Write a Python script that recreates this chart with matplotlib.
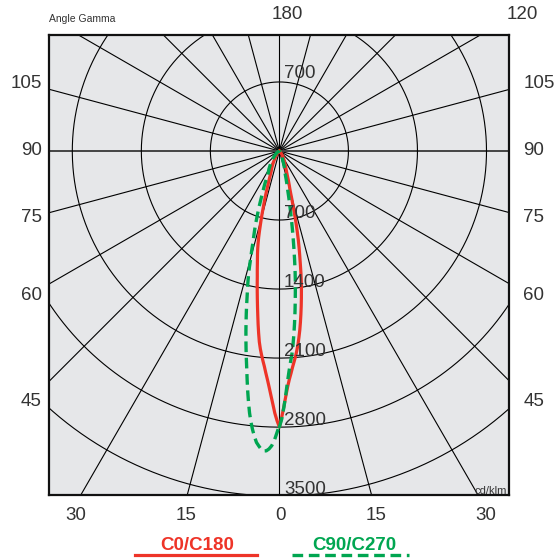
import numpy as np
import matplotlib.pyplot as plt
from matplotlib.lines import Line2D

plt.rcParams['font.family'] = ['Liberation Sans', 'DejaVu Sans']

# gamma angles (deg) where the curves were read
gamma = [0, 0.5, 1, 1.5, 2, 2.5, 3, 3.5, 4, 4.5, 5, 5.5, 6, 6.5, 7, 7.5, 8,
         8.5, 9, 9.5, 10, 10.5, 11, 11.5, 12, 12.5, 13, 13.5, 14, 14.5, 15,
         15.5, 16, 17, 18, 20, 22, 24, 27, 30, 35, 40, 50, 60, 75, 90]

# luminous intensity in cd/klm per C-plane
c0 = [2799, 2700, 2593, 2486, 2392, 2317, 2256, 2194, 2141, 2088, 2030, 1969,
      1898, 1827, 1749, 1669, 1589, 1508, 1427, 1346, 1258, 1164, 1081, 1002,
      923, 836, 749, 658, 572, 504, 437, 394, 366, 312, 257, 200, 165, 135,
      102, 75, 42, 22, 5, 0, 0, 0]
c180 = [2799, 2735, 2659, 2564, 2477, 2395, 2321, 2255, 2189, 2133, 2076, 2016,
        1947, 1860, 1771, 1680, 1595, 1514, 1437, 1362, 1291, 1231, 1171, 1117,
        1068, 1017, 961, 901, 834, 767, 708, 649, 591, 503, 416, 294, 222, 191,
        144, 100, 60, 32, 10, 0, 0, 0]
c90 = [2799, 2717, 2600, 2471, 2343, 2236, 2146, 2068, 1974, 1867, 1758, 1647,
       1536, 1428, 1327, 1216, 1102, 992, 890, 793, 701, 613, 538, 471,
       404, 366, 328, 290, 252, 225, 214, 202, 191, 168, 145, 99, 80, 66,
       52, 40, 25, 14, 5, 0, 0, 0]
c270 = [2780, 2857, 2935, 2990, 3023, 3043, 3046, 3030, 2998, 2964, 2906, 2839,
        2762, 2674, 2569, 2460, 2349, 2239, 2141, 2047, 1954, 1863, 1773, 1685,
        1599, 1513, 1439, 1368, 1294, 1213, 1120, 1055, 985, 877, 787, 604, 458,
        363, 248, 213, 155, 108, 50, 20, 5, 0]

circle_values = [700, 1400, 2100, 2800, 3500]
side_angles = [105, 90, 75, 60, 45]
bottom_angles = [-30, -15, 0, 15, 30]
top_angles = [180, 120]

RED = '#ee3428'
GREEN = '#00a651'
TXT = '#333333'

W, H = 560, 559
CX, CY = 279.4, 151.0      # pole position in pixels
SCALE = 10.14              # cd/klm per pixel


def fxy(px, py):
    return px / W, 1 - py / H


def curve(left, right):
    g = np.radians(gamma)
    xl = -np.array(left) * np.sin(g)
    yl = -np.array(left) * np.cos(g)
    xr = np.array(right) * np.sin(g)
    yr = -np.array(right) * np.cos(g)
    return np.r_[xl[::-1], xr], np.r_[yl[::-1], yr]


fig = plt.figure(figsize=(5.6, 5.59), dpi=100)
left, right, top, bottom = 49.3, 509.3, 35.0, 495.3
ax = fig.add_axes([left / W, 1 - bottom / H, (right - left) / W, (bottom - top) / H])
ax.set_xlim((left - CX) * SCALE, (right - CX) * SCALE)
ax.set_ylim((CY - bottom) * SCALE, (CY - top) * SCALE)
ax.set_facecolor('#e6e7e9')
ax.set_xticks([])
ax.set_yticks([])
for sp in ax.spines.values():
    sp.set_linewidth(1.6)
    sp.set_color('#111111')

# grid: radial lines every 15 deg and intensity circles
for a in range(0, 360, 15):
    if a % 180 == 90:
        continue
    t = np.radians(a)
    ax.plot([0, 9000 * np.sin(t)], [0, -9000 * np.cos(t)], color='black', lw=0.8)
ax.plot([-9000, 9000], [0, 0], color='#444444', lw=1.4)

th = np.linspace(0, 2 * np.pi, 721)
for r in circle_values:
    ax.plot(r * np.cos(th), r * np.sin(th), color='black', lw=0.8)

# intensity labels along the vertical axis
ax.text(4.6 * SCALE, circle_values[0] + 4 * SCALE, str(circle_values[0]),
        ha='left', va='baseline', fontsize=13.5, color=TXT)
for r in circle_values:
    ax.text(4.6 * SCALE, -r + 2 * SCALE, str(r), ha='left', va='baseline',
            fontsize=13.5, color=TXT)

# curves
x, y = curve(c180, c0)
ax.plot(x, y, color=RED, lw=2.3, solid_joinstyle='round')
x, y = curve(c270, c90)
ax.plot(x, y, color=GREEN, lw=2.4, dashes=(3.2, 1.7))

# angle labels
for a in side_angles:
    py = CY - 2.5 + 251 / np.tan(np.radians(a)) + 6.5
    fig.text(*fxy(41.5, py), str(a), ha='right', va='baseline', fontsize=13.5, color=TXT)
    fig.text(*fxy(523.5, py), str(a), ha='left', va='baseline', fontsize=13.5, color=TXT)
for a in bottom_angles:
    px = CX + 1.5 + 355 * np.tan(np.radians(a))
    fig.text(*fxy(px, 519.5), str(abs(a)), ha='center', va='baseline',
             fontsize=13.5, color=TXT)
for a, px in zip(top_angles, [287.5, 522]):
    fig.text(*fxy(px, 19), str(a), ha='center', va='baseline', fontsize=13.5, color=TXT)

fig.text(*fxy(49, 21.5), 'Angle Gamma', ha='left', va='baseline', fontsize=7.5, color=TXT)
fig.text(*fxy(507, 493.5), 'cd/klm', ha='right', va='baseline', fontsize=8, color=TXT)

# legend
fig.text(*fxy(197.5, 550), 'C0/C180', ha='center', va='baseline', fontsize=13.5,
         fontweight='bold', color=RED)
fig.text(*fxy(354, 550), 'C90/C270', ha='center', va='baseline', fontsize=13.5,
         fontweight='bold', color=GREEN)
fig.add_artist(Line2D([135 / W, 257 / W], [1 - 555 / H] * 2, color=RED, lw=2.3))
fig.add_artist(Line2D([292 / W, 409 / W], [1 - 555 / H] * 2, color=GREEN, lw=2.4,
                      dashes=(3.2, 1.7)))

fig.savefig('out.png', dpi=100, facecolor='white')
